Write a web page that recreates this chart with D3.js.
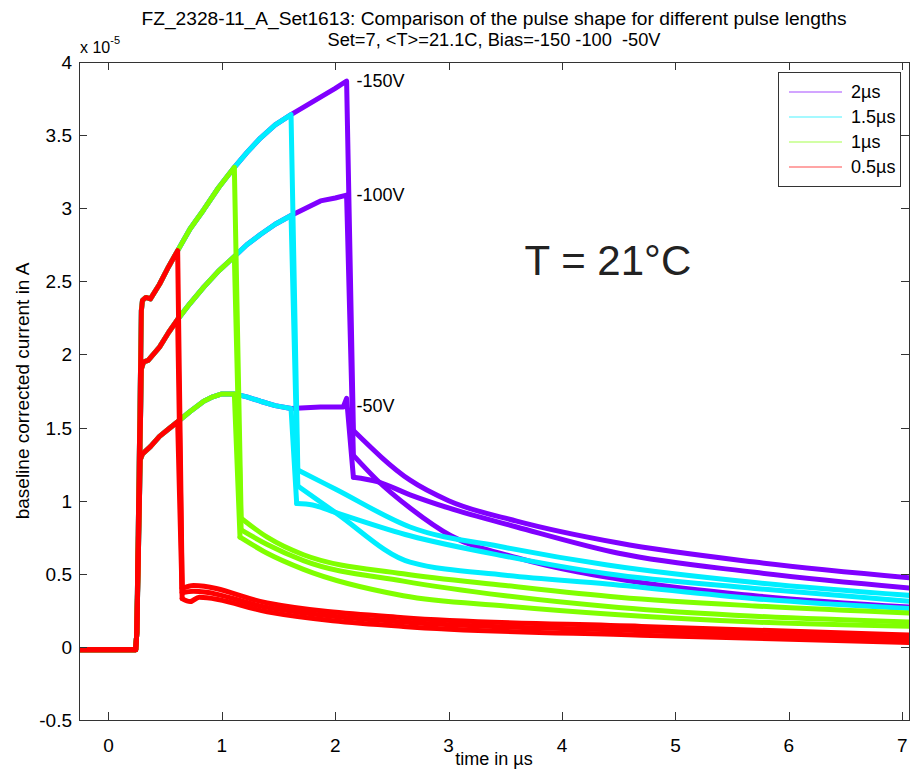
<!DOCTYPE html>
<html>
<head>
<meta charset="utf-8">
<script src="https://cdn.jsdelivr.net/npm/d3@7"></script>
<style>
body { margin: 0; background: #fff; }
text { font-family: Arial, "Liberation Sans", sans-serif; fill: #000; }
</style>
</head>
<body>
<script>
var width = 910, height = 771;

// pulse lengths, drawn longest first so the short pulses sit on top
var pulseLabels = ["2\u00b5s", "1.5\u00b5s", "1\u00b5s", "0.5\u00b5s"];
var pulseEnds = [2.10, 1.61, 1.11, 0.61];
var pulseColors = ["#8000ff", "#00eeff", "#80ff00", "#ff0000"];
var biasLabels = ["-150V", "-100V", "-50V"];

// baseline before the pulse (time in us, current in 1e-5 A)
var baseline = [[-0.26, -0.02], [0.24, -0.02]];

// shape while the laser pulse is on, one array per bias
var pulse150 = [[0.25, 0.1], [0.29, 2.30], [0.30, 2.37], [0.33, 2.39], [0.37, 2.38], [0.45, 2.48], [0.53, 2.60],
  [0.61, 2.71], [0.72, 2.86], [0.84, 2.99], [0.97, 3.14], [1.11, 3.28], [1.22, 3.38], [1.34, 3.48], [1.47, 3.57],
  [1.61, 3.64], [1.74, 3.70], [1.87, 3.76], [2.00, 3.82], [2.10, 3.87]];
var pulse100 = [[0.25, 0.1], [0.29, 1.90], [0.31, 1.95], [0.35, 1.96], [0.45, 2.05], [0.53, 2.15], [0.61, 2.24],
  [0.72, 2.35], [0.84, 2.46], [0.97, 2.57], [1.11, 2.67], [1.22, 2.75], [1.34, 2.82], [1.47, 2.89], [1.61, 2.95],
  [1.74, 3.00], [1.87, 3.05], [2.00, 3.07], [2.10, 3.09]];
var pulse50 = [[0.25, 0.1], [0.28, 1.28], [0.30, 1.32], [0.37, 1.37], [0.45, 1.44], [0.53, 1.49], [0.61, 1.54],
  [0.72, 1.61], [0.84, 1.68], [0.92, 1.71], [1.00, 1.73], [1.11, 1.73], [1.22, 1.71], [1.34, 1.68], [1.47, 1.65],
  [1.61, 1.63], [1.87, 1.64], [2.07, 1.64], [2.10, 1.70]];

// decay after the pulse, per pulse length: [-150V, -100V, -50V]
var tails2us = [
  [[2.16, 1.48], [2.66, 1.14], [3.0, 1.00], [3.6, 0.86], [4.5, 0.71], [5.7, 0.58], [7.1, 0.47]],
  [[2.16, 1.31], [2.37, 1.14], [2.66, 0.95], [3.02, 0.76], [3.6, 0.61], [4.69, 0.44], [5.7, 0.35], [7.1, 0.27]],
  [[2.16, 1.16], [2.37, 1.13], [2.66, 1.04], [3.0, 0.95], [3.6, 0.82], [4.5, 0.64], [5.7, 0.51], [7.1, 0.40]]
];
var tails15us = [
  [[1.67, 1.21], [2.0, 1.08], [2.66, 0.82], [3.5, 0.68], [4.4, 0.56], [5.7, 0.44], [7.1, 0.35]],
  [[1.67, 1.10], [2.0, 0.92], [2.66, 0.58], [3.5, 0.49], [4.4, 0.43], [5.7, 0.33], [7.1, 0.26]],
  [[1.66, 0.98], [1.8, 0.97], [2.0, 0.92], [2.66, 0.76], [3.5, 0.62], [4.4, 0.50], [5.7, 0.40], [7.1, 0.31]]
];
var tails1us = [
  [[1.17, 0.88], [1.4, 0.75], [1.72, 0.63], [2.6, 0.50], [3.5, 0.42], [4.5, 0.34], [5.7, 0.28], [7.1, 0.23]],
  [[1.17, 0.80], [1.4, 0.70], [1.72, 0.59], [2.6, 0.45], [3.5, 0.35], [4.5, 0.27], [5.7, 0.21], [7.1, 0.17]],
  [[1.16, 0.75], [1.4, 0.64], [1.72, 0.53], [2.6, 0.35], [3.5, 0.28], [4.5, 0.22], [5.7, 0.17], [7.1, 0.14]]
];
var tails05us = [
  [[0.65, 0.40], [0.75, 0.42], [1.4, 0.30], [2.6, 0.20], [4.7, 0.14], [7.1, 0.08]],
  [[0.65, 0.37], [0.75, 0.38], [1.4, 0.27], [2.6, 0.17], [4.7, 0.11], [7.1, 0.055]],
  [[0.65, 0.33], [0.72, 0.31], [0.8, 0.34], [1.4, 0.24], [2.6, 0.14], [4.7, 0.08], [7.1, 0.03]]
];
var tails = [tails2us, tails15us, tails1us, tails05us];
var pulses = [pulse150, pulse100, pulse50];

var xTicks = [0, 1, 2, 3, 4, 5, 6, 7];
var yTicks = [-0.5, 0, 0.5, 1, 1.5, 2, 2.5, 3, 3.5, 4];

// plot box (note: "top" is reserved on window, so use a prefix)
var pL = 79, pR = 909, pT = 62, pB = 720;

var x = d3.scaleLinear().domain([-0.26, 7.06]).range([pL, pR]);
var y = d3.scaleLinear().domain([-0.5, 4]).range([pB, pT]);

var svg = d3.select("body").append("svg")
  .attr("width", width)
  .attr("height", height);

svg.append("clipPath").attr("id", "plotclip")
  .append("rect").attr("x", pL).attr("y", pT)
  .attr("width", pR - pL).attr("height", pB - pT);

// each trace = baseline + pulse until it ends + fall (straight), then a smooth decay
var traces = [];
pulseEnds.forEach(function(end, p) {
  pulses.forEach(function(shape, b) {
    var tail = tails[p][b];
    var head = baseline.concat(shape.filter(function(d) { return d[0] <= end + 0.001; }), [tail[0]]);
    traces.push({ p: p, b: b, head: head, tail: tail });
  });
});

var lineStraight = d3.line()
  .x(function(d) { return x(d[0]); })
  .y(function(d) { return y(d[1]); });
var lineSmooth = d3.line()
  .curve(d3.curveMonotoneX)
  .x(function(d) { return x(d[0]); })
  .y(function(d) { return y(d[1]); });

var g = svg.append("g").attr("clip-path", "url(#plotclip)")
  .attr("fill", "none").attr("stroke-width", 5)
  .attr("stroke-linejoin", "round").attr("stroke-linecap", "round");
var tg = g.selectAll("g.trace").data(traces).enter().append("g").attr("class", "trace")
  .attr("stroke", function(d) { return pulseColors[d.p]; });
tg.append("path").attr("d", function(d) { return lineStraight(d.head); });
tg.append("path").attr("d", function(d) { return lineSmooth(d.tail); });

// axes box with inward ticks on all four sides
var axisColor = "#333";
var frame = svg.append("g").attr("shape-rendering", "crispEdges");
frame.append("rect").attr("x", pL + 0.5).attr("y", pT + 0.5)
  .attr("width", pR - pL).attr("height", pB - pT)
  .attr("fill", "none").attr("stroke", axisColor);

xTicks.forEach(function(t) {
  var px = Math.round(x(t)) + 0.5;
  frame.append("line").attr("x1", px).attr("x2", px).attr("y1", pB).attr("y2", pB - 8).attr("stroke", axisColor);
  frame.append("line").attr("x1", px).attr("x2", px).attr("y1", pT).attr("y2", pT + 8).attr("stroke", axisColor);
  svg.append("text").attr("x", x(t)).attr("y", 752).attr("text-anchor", "middle")
    .style("font-size", "19px").text(t);
});
yTicks.forEach(function(v) {
  var py = Math.round(y(v)) + 0.5;
  frame.append("line").attr("x1", pL).attr("x2", pL + 8).attr("y1", py).attr("y2", py).attr("stroke", axisColor);
  frame.append("line").attr("x1", pR).attr("x2", pR - 8).attr("y1", py).attr("y2", py).attr("stroke", axisColor);
  svg.append("text").attr("x", 72).attr("y", y(v) + 7).attr("text-anchor", "end")
    .style("font-size", "19px").text(v);
});

// exponent
var ex = svg.append("text").attr("x", 80).attr("y", 53).style("font-size", "16px");
ex.append("tspan").text("x 10");
ex.append("tspan").attr("dy", -9).style("font-size", "11px").text("-5");

// titles and axis labels
svg.append("text").attr("x", (pL + pR) / 2).attr("y", 25).attr("text-anchor", "middle")
  .attr("textLength", 705).attr("lengthAdjust", "spacingAndGlyphs")
  .style("font-size", "18px").text("FZ_2328-11_A_Set1613: Comparison of the pulse shape for different pulse lengths");
svg.append("text").attr("x", (pL + pR) / 2).attr("y", 46).attr("text-anchor", "middle")
  .attr("textLength", 333).attr("lengthAdjust", "spacingAndGlyphs")
  .style("font-size", "18px").style("white-space", "pre")
  .text("Set=7, <T>=21.1C, Bias=-150 -100  -50V");
svg.append("text").attr("x", (pL + pR) / 2).attr("y", 765).attr("text-anchor", "middle")
  .style("font-size", "18px").text("time in \u00b5s");
svg.append("text").attr("transform", "translate(29," + ((pT + pB) / 2) + ") rotate(-90)")
  .attr("text-anchor", "middle").style("font-size", "19px")
  .text("baseline corrected current in A");

// bias labels at the end of the 2us pulse
pulses.forEach(function(shape, b) {
  var last = shape[shape.length - 1];
  var lv = b == 2 ? 1.65 : last[1];
  svg.append("text").attr("x", x(2.10) + 10).attr("y", y(lv) + 6)
    .style("font-size", "18px").text(biasLabels[b]);
});

svg.append("text").attr("x", x(3.67)).attr("y", y(2.54))
  .style("font-size", "42px").style("fill", "#222").text("T = 21\u00b0C");

// legend
var lg = svg.append("g");
lg.append("rect").attr("x", 778.5).attr("y", 72.5).attr("width", 122).attr("height", 114)
  .attr("fill", "#fff").attr("stroke", axisColor).attr("shape-rendering", "crispEdges");
pulseLabels.forEach(function(lab, i) {
  var ly = 92 + i * 25;
  lg.append("line").attr("x1", 789).attr("x2", 842).attr("y1", ly).attr("y2", ly)
    .attr("stroke", pulseColors[i]).attr("stroke-opacity", 0.7).attr("stroke-width", 1.2);
  lg.append("text").attr("x", 851).attr("y", ly + 6).style("font-size", "18px").text(lab);
});
</script>
</body>
</html>
